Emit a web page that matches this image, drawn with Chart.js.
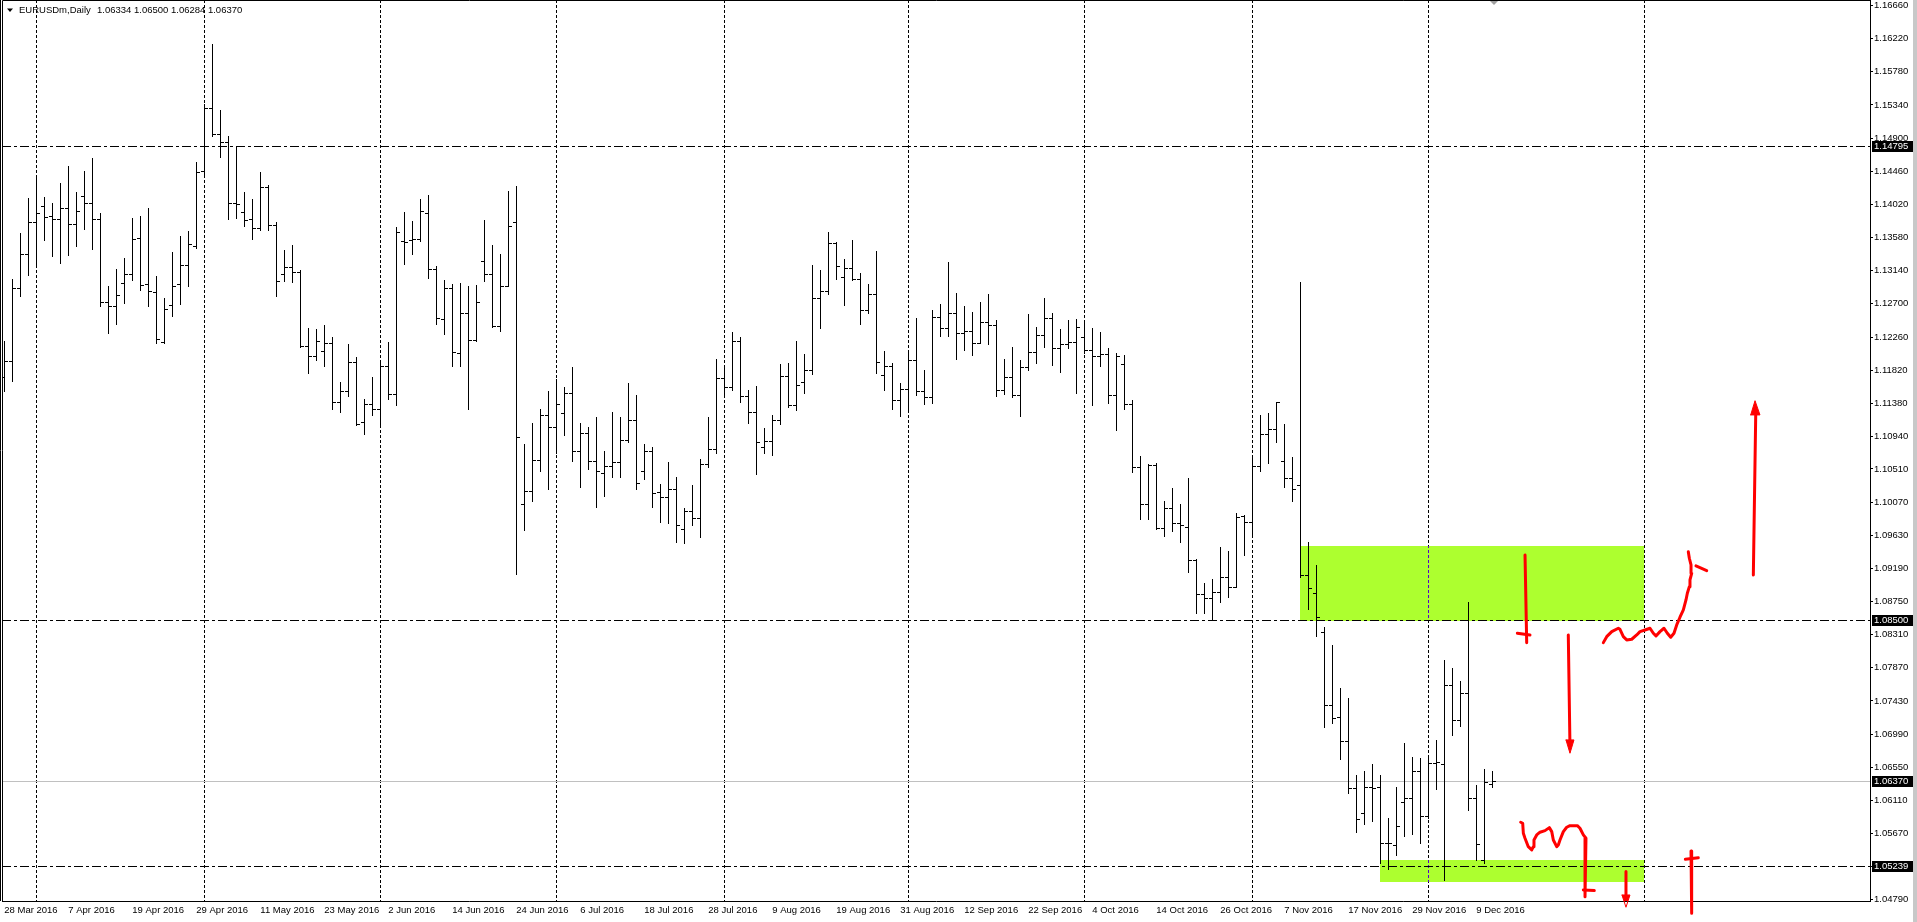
<!DOCTYPE html>
<html>
<head>
<meta charset="utf-8">
<title>EURUSDm, Daily</title>
<script src="https://cdn.jsdelivr.net/npm/chart.js@4.4.1/dist/chart.umd.min.js"></script>
<style>
  html, body { margin: 0; padding: 0; background: #fff; overflow: hidden; }
  canvas { display: block; }
</style>
</head>
<body>
<canvas id="chart" width="1917" height="922"></canvas>
<script>
/* ══════════════════════════════════════
   EURUSDm Daily — OHLC bars (MT4 look)
══════════════════════════════════════ */

// ── DATA ──────────────────────────────
// one bar per trading day, index 0 = 28 Mar 2016
const opens = [
  1.11728,1.11941,1.12913,1.13358,1.13785,1.13993,1.13870,1.13823,1.13970,1.13756,
  1.14126,1.14036,1.13823,1.12723,1.12666,1.12974,1.13093,1.13576,1.12960,1.12856,
  1.12200,1.12690,1.12960,1.13211,1.13472,1.14460,1.15306,1.14960,1.14846,1.14036,
  1.13918,1.13823,1.13709,1.14249,1.13742,1.13093,1.13183,1.13121,1.12145,1.12012,
  1.12069,1.12187,1.11396,1.11538,1.11927,1.11126,1.11367,1.11301,1.11870,1.11500,
  1.13538,1.13553,1.13562,1.13908,1.13164,1.12495,1.12913,1.12050,1.12581,1.12225,
  1.13263,1.13093,1.12401,1.12936,1.13780,1.10045,1.10220,1.10623,1.11225,1.11062,
  1.11247,1.11513,1.10748,1.10982,1.10610,1.10451,1.10553,1.10597,1.10894,1.11155,
  1.10478,1.10748,1.10199,1.10141,1.10239,1.09708,1.09951,1.09863,1.10571,1.10774,
  1.11721,1.11601,1.12203,1.11478,1.11265,1.10805,1.10880,1.11155,1.11743,1.11358,
  1.11668,1.11818,1.12774,1.12875,1.13504,1.13052,1.13181,1.13030,1.12619,1.12827,
  1.11756,1.11880,1.11424,1.11575,1.11951,1.11548,1.11460,1.12522,1.12380,1.12575,
  1.12309,1.12340,1.12185,1.12455,1.12415,1.11553,1.11725,1.11486,1.11862,1.12066,
  1.12287,1.12517,1.12110,1.12163,1.12199,1.12265,1.12088,1.12008,1.12031,1.11486,
  1.11900,1.11367,1.10531,1.10044,1.10562,1.09720,1.09987,1.09788,1.09743,1.09301,
  1.08850,1.08797,1.08872,1.09080,1.08947,1.09889,1.09801,1.10548,1.10978,1.11040,
  1.10610,1.10385,1.10292,1.09102,1.08868,1.08341,1.07377,1.07213,1.06903,1.06271,
  1.05939,1.06284,1.06284,1.05550,1.05519,1.06085,1.06138,1.06505,1.05908,1.06603,
  1.06589,1.07642,1.07178,1.07532,1.06138,1.05320,1.06334
];
const highs = [
  1.12202,1.13031,1.13638,1.14107,1.14406,1.14121,1.14041,1.14306,1.14534,1.14183,
  1.14463,1.14638,1.13908,1.12936,1.13164,1.13311,1.13846,1.13870,1.13974,1.13069,
  1.12780,1.13387,1.13605,1.13671,1.14586,1.15354,1.16150,1.15273,1.14927,1.14785,
  1.14183,1.14098,1.14448,1.14278,1.13780,1.13420,1.13481,1.13150,1.12382,1.12368,
  1.12415,1.12263,1.11666,1.12168,1.11998,1.11443,1.11728,1.11931,1.12192,1.13718,
  1.13918,1.13804,1.14088,1.14145,1.13197,1.13017,1.12970,1.12974,1.12936,1.12946,
  1.13813,1.13481,1.13358,1.14192,1.14264,1.10841,1.11121,1.11305,1.11548,1.11699,
  1.11593,1.11858,1.11119,1.11066,1.11199,1.10748,1.11265,1.11199,1.11650,1.11491,
  1.10840,1.10801,1.10305,1.10602,1.10407,1.09991,1.10296,1.10641,1.11199,1.11969,
  1.11880,1.12331,1.12265,1.11557,1.11610,1.11053,1.11225,1.11907,1.11915,1.12207,
  1.12035,1.13216,1.13150,1.13650,1.13520,1.13296,1.13548,1.13110,1.12964,1.13402,
  1.12075,1.11911,1.11654,1.12044,1.12517,1.11823,1.12619,1.12699,1.13260,1.12849,
  1.12672,1.12592,1.12725,1.12831,1.12486,1.11964,1.12128,1.11951,1.12566,1.12398,
  1.12778,1.12579,1.12367,1.12486,1.12499,1.12442,1.12380,1.12322,1.12110,1.12044,
  1.12022,1.11424,1.10681,1.10571,1.10593,1.10084,1.10256,1.10044,1.10389,1.09310,
  1.09000,1.09049,1.09478,1.09420,1.09920,1.09898,1.10694,1.11230,1.11248,1.11402,
  1.11106,1.10664,1.12990,1.09536,1.09235,1.08408,1.08173,1.07598,1.07465,1.06448,
  1.06501,1.06594,1.06448,1.05873,1.06293,1.06877,1.06682,1.06678,1.06700,1.06912,
  1.07974,1.07872,1.07695,1.08739,1.06315,1.06523,1.06500
];
const lows = [
  1.11538,1.11680,1.12808,1.13088,1.13197,1.13553,1.13339,1.13244,1.13353,1.13472,
  1.13695,1.13434,1.12666,1.12320,1.12439,1.12714,1.13022,1.12889,1.12676,1.12178,
  1.12187,1.12543,1.12699,1.12936,1.13448,1.14420,1.14930,1.14643,1.13832,1.13846,
  1.13737,1.13567,1.13680,1.13685,1.12808,1.13007,1.12993,1.12131,1.11789,1.11950,
  1.11870,1.11310,1.11268,1.11481,1.11097,1.10969,1.11220,1.11111,1.11443,1.11363,
  1.13230,1.13363,1.13529,1.13041,1.12439,1.12306,1.11879,1.11879,1.11301,1.12210,
  1.13007,1.12391,1.12344,1.12931,1.09111,1.09704,1.10083,1.10487,1.10239,1.10717,
  1.10964,1.10619,1.10274,1.10513,1.10009,1.10155,1.10407,1.10407,1.10870,1.10239,
  1.10372,1.10000,1.09810,1.09788,1.09544,1.09522,1.09765,1.09611,1.10540,1.10717,
  1.11500,1.11557,1.11402,1.11124,1.10442,1.10717,1.10694,1.11110,1.11336,1.11292,
  1.11522,1.11765,1.12384,1.12827,1.13026,1.12685,1.13017,1.12433,1.12575,1.11787,
  1.11557,1.11305,1.11216,1.11270,1.11491,1.11376,1.11389,1.12278,1.12274,1.11969,
  1.12092,1.12026,1.12176,1.12168,1.11482,1.11500,1.11470,1.11216,1.11823,1.11920,
  1.12132,1.11889,1.11800,1.12119,1.11522,1.12044,1.11362,1.11880,1.11389,1.11026,
  1.11301,1.10473,1.09850,1.09850,1.09708,1.09624,1.09690,1.09544,1.09146,1.08593,
  1.08593,1.08505,1.08748,1.08814,1.08938,1.09363,1.09602,1.10487,1.10593,1.10871,
  1.10265,1.10080,1.09071,1.08646,1.08297,1.07089,1.07142,1.06665,1.06204,1.05696,
  1.05793,1.05842,1.05275,1.05196,1.05386,1.05643,1.05660,1.05541,1.05873,1.06258,
  1.05054,1.06979,1.07103,1.05983,1.05320,1.05275,1.06284
];
const closes = [
  1.11941,1.12913,1.13358,1.13785,1.13908,1.13851,1.13823,1.13970,1.13756,1.13927,
  1.14036,1.13823,1.12723,1.12666,1.12813,1.13102,1.13567,1.12950,1.12865,1.12235,
  1.12628,1.12936,1.13211,1.13496,1.14444,1.15306,1.14960,1.14846,1.14036,1.14022,
  1.13813,1.13709,1.14249,1.13742,1.12998,1.13183,1.13121,1.12145,1.12012,1.12202,
  1.12187,1.11396,1.11538,1.11927,1.11102,1.11367,1.11301,1.11870,1.11500,1.13652,
  1.13519,1.13562,1.13927,1.13164,1.12510,1.12913,1.12059,1.12581,1.12225,1.12723,
  1.13093,1.12401,1.12936,1.13737,1.10931,1.10220,1.10623,1.11225,1.11062,1.11371,
  1.11513,1.10748,1.10982,1.10610,1.10487,1.10553,1.10597,1.10894,1.11155,1.10318,
  1.10748,1.10186,1.10141,1.10239,1.09765,1.09951,1.09863,1.10571,1.10774,1.11721,
  1.11601,1.12203,1.11478,1.11265,1.10863,1.10880,1.11155,1.11743,1.11358,1.11623,
  1.11818,1.12774,1.12875,1.13504,1.13203,1.13181,1.13030,1.12619,1.12827,1.11924,
  1.11880,1.11424,1.11575,1.11951,1.11548,1.11460,1.12522,1.12380,1.12575,1.12309,
  1.12340,1.12185,1.12455,1.12415,1.11553,1.11725,1.11486,1.11862,1.12066,1.12287,
  1.12517,1.12110,1.12163,1.12199,1.12398,1.12088,1.12008,1.12031,1.11486,1.12008,
  1.11367,1.10531,1.10044,1.10562,1.09720,1.09987,1.09788,1.09760,1.09301,1.08850,
  1.08797,1.08872,1.09080,1.08947,1.09876,1.09801,1.10548,1.10978,1.11040,1.11398,
  1.10385,1.10239,1.09102,1.08925,1.08540,1.07377,1.07200,1.06903,1.06271,1.05864,
  1.06284,1.06280,1.05550,1.05541,1.05775,1.06138,1.06505,1.05899,1.06603,1.06616,
  1.07642,1.07178,1.07532,1.06138,1.05532,1.06350,1.06370
];

// time scale labels (every 8th bar) and month separators (bar index)
const dateTicks = [
  '28 Mar 2016','7 Apr 2016','19 Apr 2016','29 Apr 2016','11 May 2016','23 May 2016',
  '2 Jun 2016','14 Jun 2016','24 Jun 2016','6 Jul 2016','18 Jul 2016','28 Jul 2016',
  '9 Aug 2016','19 Aug 2016','31 Aug 2016','12 Sep 2016','22 Sep 2016','4 Oct 2016',
  '14 Oct 2016','26 Oct 2016','7 Nov 2016','17 Nov 2016','29 Nov 2016','9 Dec 2016'
];
const dateTickIdx = dateTicks.map((_, k) => k * 8);
const monthStarts = [4, 25, 47, 69, 90, 113, 135, 156, 178, 205];

// price scale
const priceTicks = [
  1.16660,1.16220,1.15780,1.15340,1.14900,1.14460,1.14020,1.13580,1.13140,1.12700,
  1.12260,1.11820,1.11380,1.10940,1.10510,1.10070,1.09630,1.09190,1.08750,1.08310,
  1.07870,1.07430,1.06990,1.06550,1.06110,1.05670,1.05230,1.04790
];

// objects on the chart
const levelPrices = [1.14795, 1.08500, 1.05239];
const bidPrice    = 1.06370;
const zoneFrom    = [162, 172];
const zoneTo      = [205, 205];
const zoneTop     = [1.09491, 1.05320];
const zoneBottom  = [1.08500, 1.05045];

// hand drawn red pen strokes, [bar index, price]
const penShortDown  = [[190.09,1.09368],[190.30,1.08204]];
const penShortCross = [[189.13,1.08329],[190.71,1.08306]];
const penLongDown   = [[195.50,1.08306],[195.71,1.06824]];
const headLongDown  = [[195.21,1.06913],[195.71,1.06736],[196.21,1.06913],[195.21,1.06913]];
const penWaveHigh = [
  [199.88,1.08204],[200.30,1.08283],[200.93,1.08350],[201.75,1.08395],[201.96,1.08381],
  [202.38,1.08283],[202.80,1.08240],[203.43,1.08249],[204.05,1.08306],[204.46,1.08350],
  [205.09,1.08372],[205.71,1.08395],[206.13,1.08328],[206.46,1.08293],[206.96,1.08350],
  [207.46,1.08395],[207.88,1.08328],[208.30,1.08275],[208.71,1.08328],[209.05,1.08439],
  [209.46,1.08541],[209.88,1.08638],[210.21,1.08770],[210.38,1.08859],[210.63,1.08947],
  [210.71,1.09036],[210.93,1.09125],[210.84,1.09235],[210.63,1.09324],[210.50,1.09411]
];
const penWaveTick  = [[211.46,1.09222],[212.80,1.09159]];
const penUp        = [[218.63,1.09102],[218.93,1.11248]];
const headUp       = [[218.30,1.11226],[218.84,1.11415],[219.46,1.11226],[218.30,1.11226]];
const penWaveLow = [
  [189.55,1.05820],[189.80,1.05807],[189.88,1.05674],[190.09,1.05608],[190.50,1.05496],
  [190.93,1.05453],[191.13,1.05496],[191.21,1.05585],[191.55,1.05652],[191.96,1.05688],
  [192.59,1.05709],[193.13,1.05749],[193.43,1.05696],[193.63,1.05585],[194.05,1.05496],
  [194.25,1.05519],[194.46,1.05585],[194.88,1.05696],[195.30,1.05754],[195.71,1.05775],
  [196.63,1.05775],[196.96,1.05741],[197.38,1.05652],[197.71,1.05608],[197.59,1.04833]
];
const penLowHook   = [[197.38,1.04922],[198.75,1.04913]];
const penLowDown   = [[202.71,1.05165],[202.71,1.04833]];
const headLowDown  = [[202.21,1.04855],[202.71,1.04692],[203.21,1.04855],[202.21,1.04855]];
const penLowUp     = [[210.84,1.05439],[210.92,1.04613]];
const penLowCross  = [[210.13,1.05329],[211.75,1.05350]];

// ── LAYOUT ────────────────────────────
const AXIS_W = 47, AXIS_H = 21;
const X_MIN = -0.2875, X_MAX = 233.2125;   // 8 px per bar
const Y_MIN = 1.04775, Y_MAX = 1.16733;
const FONT = { family: 'Liberation Sans', size: 9.5 };

// ── PLUGINS ───────────────────────────
const mt4Plugin = {
  id: 'mt4',
  beforeDatasetsDraw(chart) {
    const { ctx, chartArea: a, scales: { x, y } } = chart;
    const px = v => Math.round(x.getPixelForValue(v));
    const py = v => Math.round(y.getPixelForValue(v));
    const drawGrid = () => {
      monthStarts.forEach(i => {
        const gx = px(i) + 0.5;
        ctx.beginPath(); ctx.moveTo(gx, a.top); ctx.lineTo(gx, a.bottom); ctx.stroke();
      });
    };
    ctx.save();
    ctx.beginPath();
    ctx.rect(a.left, a.top, a.right - a.left, a.bottom - a.top);
    ctx.clip();

    // rectangles drawn as background
    ctx.fillStyle = '#adff2f';
    zoneFrom.forEach((f, k) => {
      const x0 = px(f), x1 = px(zoneTo[k]);
      const y0 = py(zoneTop[k]), y1 = py(zoneBottom[k]);
      ctx.fillRect(x0, y0, x1 - x0, y1 - y0 + 1);
    });

    // vertical grid (inverted colour where it crosses a rectangle)
    ctx.lineWidth = 1;
    ctx.strokeStyle = '#000';
    ctx.setLineDash([3, 2]);
    drawGrid();
    zoneFrom.forEach((f, k) => {
      const x0 = px(f), x1 = px(zoneTo[k]);
      const y0 = py(zoneTop[k]), y1 = py(zoneBottom[k]);
      ctx.save();
      ctx.beginPath(); ctx.rect(x0, y0, x1 - x0, y1 - y0 + 1); ctx.clip();
      ctx.strokeStyle = '#5200d0';
      drawGrid();
      ctx.restore();
    });

    // bid line
    ctx.setLineDash([]);
    ctx.strokeStyle = '#c0c0c0';
    const by = py(bidPrice) + 0.5;
    ctx.beginPath(); ctx.moveTo(a.left, by); ctx.lineTo(a.right, by); ctx.stroke();

    // horizontal levels
    ctx.strokeStyle = '#000';
    ctx.setLineDash([9, 3, 3, 3]);
    levelPrices.forEach(v => {
      const ly = py(v) + 0.5;
      ctx.beginPath(); ctx.moveTo(a.left, ly); ctx.lineTo(a.right, ly); ctx.stroke();
    });
    ctx.setLineDash([]);

    // OHLC bars
    ctx.fillStyle = '#000';
    for (let i = 0; i < opens.length; i++) {
      const bx = px(i);
      const yh = py(highs[i]), yl = py(lows[i]);
      ctx.fillRect(bx, yh, 1, Math.max(1, yl - yh + 1));
      ctx.fillRect(bx - 3, py(opens[i]), 3, 1);
      ctx.fillRect(bx + 1, py(closes[i]), 3, 1);
    }
    ctx.restore();
  },
  afterDraw(chart) {
    const { ctx, chartArea: a, scales: { y } } = chart;
    ctx.save();

    // frame
    ctx.strokeStyle = '#000';
    ctx.lineWidth = 1;
    ctx.beginPath();
    ctx.moveTo(0.5, 0); ctx.lineTo(0.5, a.bottom);
    ctx.moveTo(a.left + 0.5, a.bottom); ctx.lineTo(a.left + 0.5, a.top + 0.5); ctx.lineTo(a.right, a.top + 0.5);
    ctx.stroke();
    ctx.fillStyle = '#c8c8c8';
    ctx.fillRect(1913, 0, 4, 922);

    // price labels of objects
    ctx.font = `${FONT.size}px ${FONT.family}`;
    ctx.textBaseline = 'middle';
    ctx.textAlign = 'left';
    [...levelPrices, bidPrice].forEach(v => {
      const ly = Math.round(y.getPixelForValue(v));
      ctx.fillStyle = '#000';
      ctx.fillRect(a.right + 2, ly - 5, 41, 11);
      ctx.fillStyle = '#fff';
      ctx.fillText(v.toFixed(5), a.right + 4, ly + 0.5);
    });

    // header
    ctx.fillStyle = '#000';
    ctx.beginPath();
    ctx.moveTo(7, 8.5); ctx.lineTo(13, 8.5); ctx.lineTo(10, 12); ctx.closePath(); ctx.fill();
    ctx.fillText('EURUSDm,Daily', 19, 10);
    const last = opens.length - 1;
    ctx.fillText([opens[last], highs[last], lows[last], closes[last]].map(v => v.toFixed(5)).join(' '), 97, 10);

    // chart shift marker
    ctx.fillStyle = '#a0a0a0';
    ctx.beginPath();
    ctx.moveTo(1490, 1); ctx.lineTo(1498, 1); ctx.lineTo(1494, 5); ctx.closePath(); ctx.fill();
    ctx.restore();
  }
};

// ── DATASETS ──────────────────────────
function pen(points, head) {
  return {
    data: points.map(([x, y]) => ({ x, y })),
    showLine: true,
    borderColor: '#ff0000',
    backgroundColor: '#ff0000',
    borderWidth: head ? 1 : 3,
    borderCapStyle: 'round',
    borderJoinStyle: 'round',
    pointRadius: 0,
    tension: 0,
    fill: head ? 'shape' : false,
    clip: false,
  };
}

const datasets = [
  pen(penShortDown), pen(penShortCross),
  pen(penLongDown), pen(headLongDown, true),
  pen(penWaveHigh), pen(penWaveTick),
  pen(penUp), pen(headUp, true),
  pen(penWaveLow), pen(penLowHook),
  pen(penLowDown), pen(headLowDown, true),
  pen(penLowUp), pen(penLowCross),
];

// ── CHART ─────────────────────────────
new Chart(document.getElementById('chart'), {
  type: 'scatter',
  data: { datasets },
  plugins: [mt4Plugin],
  options: {
    responsive: false,
    devicePixelRatio: 1,
    animation: false,
    events: [],
    layout: { padding: { left: 2, top: 0, right: 0, bottom: 0 } },
    plugins: { legend: { display: false }, tooltip: { enabled: false } },
    scales: {
      x: {
        type: 'linear', min: X_MIN, max: X_MAX,
        afterBuildTicks: s => { s.ticks = dateTickIdx.map(v => ({ value: v })); },
        afterFit: s => { s.height = AXIS_H; s.paddingLeft = 0; s.paddingRight = 0; },
        ticks: {
          callback: v => dateTicks[dateTickIdx.indexOf(v)],
          align: 'start', autoSkip: false, maxRotation: 0,
          padding: 4, color: '#000', font: FONT,
        },
        grid: { drawOnChartArea: false, drawTicks: false },
        border: { display: true, color: '#000' },
      },
      y: {
        type: 'linear', position: 'right', min: Y_MIN, max: Y_MAX,
        afterBuildTicks: s => { s.ticks = priceTicks.map(v => ({ value: v })); },
        afterFit: s => { s.width = AXIS_W; s.paddingTop = 0; s.paddingBottom = 0; },
        ticks: {
          callback: v => v.toFixed(5),
          autoSkip: false, padding: 1, color: '#000', font: FONT,
        },
        grid: { drawOnChartArea: false, tickLength: 3, tickColor: '#000' },
        border: { display: true, color: '#000' },
      },
    },
  },
});
</script>
</body>
</html>
